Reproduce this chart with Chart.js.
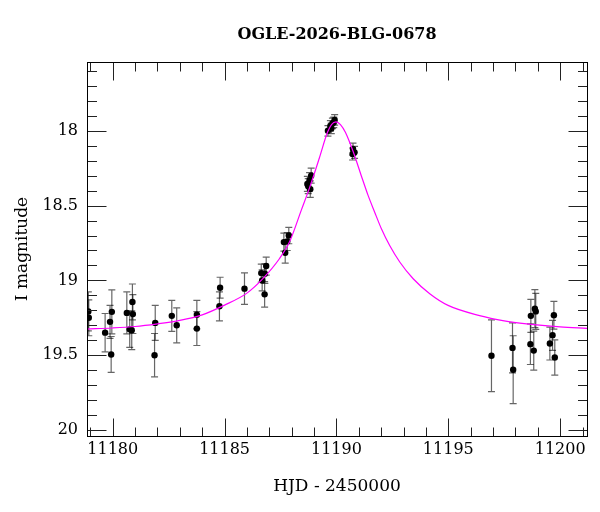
<!DOCTYPE html>
<html>
<head>
<meta charset="utf-8">
<script src="https://cdn.jsdelivr.net/npm/chart.js@4/dist/chart.umd.min.js"></script>
<style>
  html, body { margin: 0; padding: 0; background: #fff; }
  #wrap { width: 600px; height: 512px; }
</style>
</head>
<body>
<div id="wrap"><canvas id="chart"></canvas></div>
<script>
// observations: HJD - 2450000, I magnitude, error
const obsT = [
  11178.91, 11178.93, 11179.66, 11179.88, 11179.96, 11179.93, 11180.63, 11180.88,
  11180.90, 11180.76, 11180.85, 11181.90, 11181.87, 11182.64, 11182.86, 11183.76,
  11183.76, 11184.77, 11184.80, 11185.89,
  11186.64, 11186.80, 11186.68, 11186.79, 11186.86,
  11187.65, 11187.71, 11187.87, 11187.80,
  11188.70, 11188.80, 11188.87, 11188.83, 11188.74,
  11189.62, 11189.73, 11189.82, 11189.92, 11189.88, 11189.77,
  11190.74, 11190.81, 11190.72,
  11196.93, 11197.87, 11197.90, 11198.69, 11198.87, 11198.91, 11198.67, 11198.82,
  11199.72, 11199.66, 11199.54, 11199.76
];
const obsMag = [
  19.207, 19.250, 19.349, 19.277, 19.210, 19.495, 19.217, 19.144,
  19.225, 19.327, 19.333, 19.284, 19.500, 19.237, 19.300, 19.229,
  19.322, 19.173, 19.049, 19.055,
  18.951, 18.955, 19.000, 19.093, 18.904,
  18.744, 18.815, 18.700, 18.740,
  18.355, 18.330, 18.300, 18.390, 18.370,
  18.000, 17.967, 17.950, 17.927, 17.944, 17.984,
  18.122, 18.144, 18.155,
  19.504, 19.451, 19.597, 19.237, 19.189, 19.207, 19.426, 19.469,
  19.233, 19.367, 19.422, 19.515
];
const obsErr = [
  0.130, 0.120, 0.128, 0.110, 0.147, 0.120, 0.140, 0.120,
  0.130, 0.120, 0.130, 0.117, 0.145, 0.103, 0.117, 0.095,
  0.113, 0.097, 0.070, 0.105,
  0.060, 0.065, 0.070, 0.085, 0.060,
  0.060, 0.070, 0.055, 0.060,
  0.050, 0.050, 0.050, 0.055, 0.050,
  0.035, 0.035, 0.035, 0.035, 0.035, 0.035,
  0.040, 0.040, 0.040,
  0.240, 0.167, 0.227, 0.110, 0.127, 0.120, 0.136, 0.130,
  0.093, 0.100, 0.110, 0.118
];

// model light curve
const modelT = [
  11178.85, 11180, 11181, 11182, 11183, 11184, 11185, 11186, 11186.7, 11187.45,
  11187.9, 11188.43, 11188.8, 11189.24, 11189.6, 11189.78, 11189.98, 11190.18,
  11190.4, 11190.75, 11191.11, 11191.41, 11191.71, 11192.01, 11192.38, 11192.83,
  11193.43, 11194.17, 11194.99, 11196.4, 11197.5, 11198.5, 11200, 11201.2
];
const modelMag = [
  19.325, 19.318, 19.308, 19.290, 19.267, 19.230, 19.165, 19.085, 18.990, 18.855,
  18.744, 18.530, 18.380, 18.180, 18.010, 17.958, 17.940, 17.958,
  18.010, 18.140, 18.300, 18.430, 18.544, 18.655, 18.767, 18.877,
  18.989, 19.089, 19.167, 19.235, 19.270, 19.290, 19.310, 19.320
];

const xTicks = [11180, 11185, 11190, 11195, 11200];
const xMinorTicks = [11179, 11181, 11182, 11183, 11184, 11186, 11187, 11188, 11189,
  11191, 11192, 11193, 11194, 11196, 11197, 11198, 11199, 11201];
const yTicks = [18, 18.5, 19, 19.5, 20];
const yMinorTicks = [17.6, 17.7, 17.8, 17.9, 18.1, 18.2, 18.3, 18.4, 18.6, 18.7, 18.8, 18.9,
  19.1, 19.2, 19.3, 19.4, 19.6, 19.7, 19.8, 19.9];

const titleText = 'OGLE-2026-BLG-0678';
const serif = '"DejaVu Serif", "Liberation Serif", serif';

const errorBars = {
  id: 'errorBars',
  beforeDatasetsDraw(chart) {
    const { ctx, chartArea: a, scales: { x, y } } = chart;
    ctx.save();
    ctx.beginPath();
    ctx.rect(a.left, a.top, a.width, a.height);
    ctx.clip();
    ctx.strokeStyle = 'rgba(0,0,0,0.6)';
    ctx.lineWidth = 1.2;
    for (let i = 0; i < obsT.length; i++) {
      const px = x.getPixelForValue(obsT[i]);
      const y1 = y.getPixelForValue(obsMag[i] - obsErr[i]);
      const y2 = y.getPixelForValue(obsMag[i] + obsErr[i]);
      ctx.beginPath();
      ctx.moveTo(px, y1); ctx.lineTo(px, y2);
      ctx.moveTo(px - 3.5, y1); ctx.lineTo(px + 3.5, y1);
      ctx.moveTo(px - 3.5, y2); ctx.lineTo(px + 3.5, y2);
      ctx.stroke();
    }
    ctx.restore();
  }
};

const frameTicks = {
  id: 'frameTicks',
  afterDraw(chart) {
    const { ctx, chartArea: a, scales: { x, y } } = chart;
    const L = Math.round(a.left) + 0.5, R = Math.round(a.right) + 0.5;
    const T = Math.round(a.top) + 0.5, B = Math.round(a.bottom) + 0.5;
    ctx.save();
    ctx.lineWidth = 1;
    ctx.strokeStyle = '#222';
    ctx.beginPath();
    const xt = (v, len) => {
      const p = Math.round(x.getPixelForValue(v)) + 0.5;
      ctx.moveTo(p, B); ctx.lineTo(p, B - len);
      ctx.moveTo(p, T); ctx.lineTo(p, T + len);
    };
    const yt = (v, len) => {
      const p = Math.round(y.getPixelForValue(v)) + 0.5;
      ctx.moveTo(L, p); ctx.lineTo(L + len, p);
      ctx.moveTo(R, p); ctx.lineTo(R - len, p);
    };
    xTicks.forEach(v => xt(v, 18));
    xMinorTicks.forEach(v => xt(v, 9));
    yTicks.forEach(v => yt(v, 19));
    yMinorTicks.forEach(v => yt(v, 9.5));
    ctx.stroke();

    ctx.strokeStyle = '#000';
    ctx.strokeRect(L, T, R - L, B - T);

    ctx.fillStyle = '#000';
    ctx.font = 'bold 16px ' + serif;
    ctx.textAlign = 'center';
    ctx.textBaseline = 'middle';
    ctx.fillText(titleText, (a.left + a.right) / 2, 35);
    ctx.restore();
  }
};

new Chart(document.getElementById('chart'), {
  type: 'scatter',
  data: {
    datasets: [
      {
        type: 'line',
        label: 'model',
        data: modelT.map((t, i) => ({ x: t, y: modelMag[i] })),
        borderColor: '#ff00ff',
        borderWidth: 1.2,
        pointRadius: 0,
        fill: false,
        cubicInterpolationMode: 'monotone'
      },
      {
        label: 'OGLE I',
        data: obsT.map((t, i) => ({ x: t, y: obsMag[i] })),
        backgroundColor: '#000',
        borderWidth: 0,
        pointRadius: 3.2
      }
    ]
  },
  options: {
    responsive: true,
    maintainAspectRatio: false,
    animation: false,
    layout: { padding: { top: 62, right: 13, left: 0, bottom: 0 } },
    plugins: { legend: { display: false }, tooltip: { enabled: false } },
    scales: {
      x: {
        type: 'linear',
        min: 11178.85,
        max: 11201.2,
        afterFit(s) { s.height = 76; },
        afterBuildTicks(s) { s.ticks = xTicks.map(v => ({ value: v })); },
        grid: { display: false, drawTicks: false },
        border: { display: false },
        ticks: {
          color: '#000', padding: 4, maxRotation: 0, autoSkip: false,
          font: { family: serif, size: 16 },
          callback: v => String(v)
        },
        title: {
          display: true, text: 'HJD - 2450000', color: '#000',
          font: { family: serif, size: 17 }, padding: { top: 0, bottom: 15 }
        }
      },
      y: {
        type: 'linear',
        reverse: true,
        min: 17.54,
        max: 20.04,
        afterFit(s) { s.width = 87; },
        afterBuildTicks(s) { s.ticks = yTicks.map(v => ({ value: v })); },
        grid: { display: false, drawTicks: false },
        border: { display: false },
        ticks: {
          color: '#000', padding: 9, autoSkip: false,
          font: { family: serif, size: 16 },
          callback: v => String(v)
        },
        title: {
          display: true, text: 'I magnitude', color: '#000',
          font: { family: serif, size: 17 }, padding: { top: 12, bottom: 0 }
        }
      }
    }
  },
  plugins: [errorBars, frameTicks]
});
</script>
</body>
</html>
